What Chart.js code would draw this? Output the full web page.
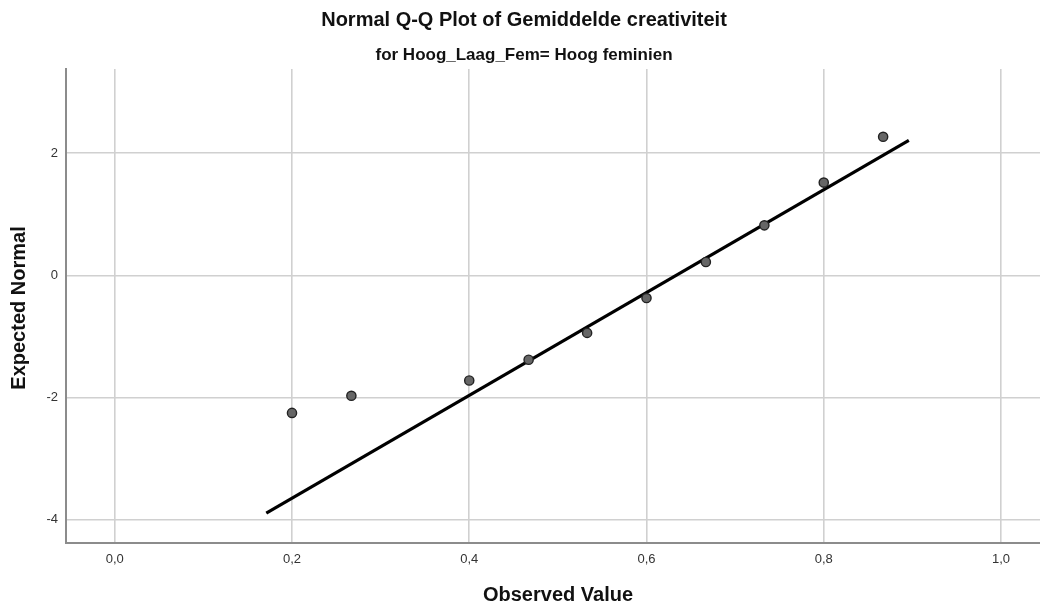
<!DOCTYPE html>
<html>
<head>
<meta charset="utf-8">
<script src="https://cdn.jsdelivr.net/npm/chart.js@4.4.1/dist/chart.umd.min.js"></script>
<style>
  html, body { margin: 0; padding: 0; background: #fff; }
  #qq { display: block; }
</style>
</head>
<body>
<canvas id="qq" width="1040" height="610"></canvas>
<script>
// observed values and the expected normal for each
const observed = [0.2, 0.267, 0.4, 0.467, 0.533, 0.6, 0.667, 0.733, 0.8, 0.867];
const expected = [-2.25, -1.97, -1.72, -1.38, -0.94, -0.37, 0.22, 0.82, 1.52, 2.27];

// reference line end points
const lineX = [0.171, 0.896];
const lineY = [-3.89, 2.21];

const xTicks = [0, 0.2, 0.4, 0.6, 0.8, 1.0];
const xTickLabels = ['0,0', '0,2', '0,4', '0,6', '0,8', '1,0'];
const yTicks = [-4, -2, 0, 2];
const yTickLabels = ['-4', '-2', '0', '2'];

const titleText = 'Normal Q-Q Plot of Gemiddelde creativiteit';
const subtitleText = 'for Hoog_Laag_Fem= Hoog feminien';
const xTitle = 'Observed Value';
const yTitle = 'Expected Normal';

const FONT = '"Liberation Sans", Arial, sans-serif';

// draws the titles where SPSS puts them
const textPlugin = {
  id: 'spssText',
  afterDraw(chart) {
    const ctx = chart.ctx;
    ctx.save();
    ctx.fillStyle = '#111';
    ctx.textAlign = 'center';
    ctx.textBaseline = 'middle';
    ctx.font = 'bold 20px ' + FONT;
    ctx.fillText(titleText, 524, 20);
    ctx.font = 'bold 17px ' + FONT;
    ctx.fillText(subtitleText, 524, 55);
    ctx.font = 'bold 20px ' + FONT;
    ctx.fillText(xTitle, 558, 595);
    ctx.translate(19, 308);
    ctx.rotate(-Math.PI / 2);
    ctx.fillText(yTitle, 0, 0);
    ctx.restore();
  }
};

new Chart(document.getElementById('qq'), {
  type: 'scatter',
  data: {
    datasets: [
      {
        label: 'line',
        type: 'line',
        data: lineX.map((x, i) => ({ x: x, y: lineY[i] })),
        borderColor: '#000',
        borderWidth: 3.2,
        pointRadius: 0,
        fill: false,
        order: 2
      },
      {
        label: 'observed',
        data: observed.map((x, i) => ({ x: x, y: expected[i] })),
        backgroundColor: '#666666',
        borderColor: '#222222',
        borderWidth: 1.4,
        pointRadius: 4.6,
        order: 1
      }
    ]
  },
  options: {
    responsive: false,
    animation: false,
    layout: { autoPadding: false, padding: { top: 69, left: 0, right: 0, bottom: 0 } },
    plugins: {
      legend: { display: false },
      tooltip: { enabled: false }
    },
    scales: {
      x: {
        type: 'linear',
        min: -0.055,
        max: 1.044,
        afterFit: (s) => { s.height = 67; },
        afterBuildTicks: (s) => { s.ticks = xTicks.map(v => ({ value: v })); },
        grid: { color: '#d0d0d0', lineWidth: 1.6, drawTicks: false },
        border: { color: '#8c8c8c', width: 2 },
        ticks: {
          padding: 9,
          color: '#333333',
          font: { family: FONT, size: 13 },
          callback: (v, i) => xTickLabels[i]
        }
      },
      y: {
        type: 'linear',
        min: -4.38,
        max: 3.38,
        afterFit: (s) => { s.width = 66; },
        afterBuildTicks: (s) => { s.ticks = yTicks.map(v => ({ value: v })); },
        grid: { color: '#d0d0d0', lineWidth: 1.6, drawTicks: false },
        border: { color: '#8c8c8c', width: 2 },
        ticks: {
          padding: 8,
          color: '#333333',
          font: { family: FONT, size: 13 },
          callback: (v, i) => yTickLabels[i]
        }
      }
    }
  },
  plugins: [textPlugin]
});
</script>
</body>
</html>
